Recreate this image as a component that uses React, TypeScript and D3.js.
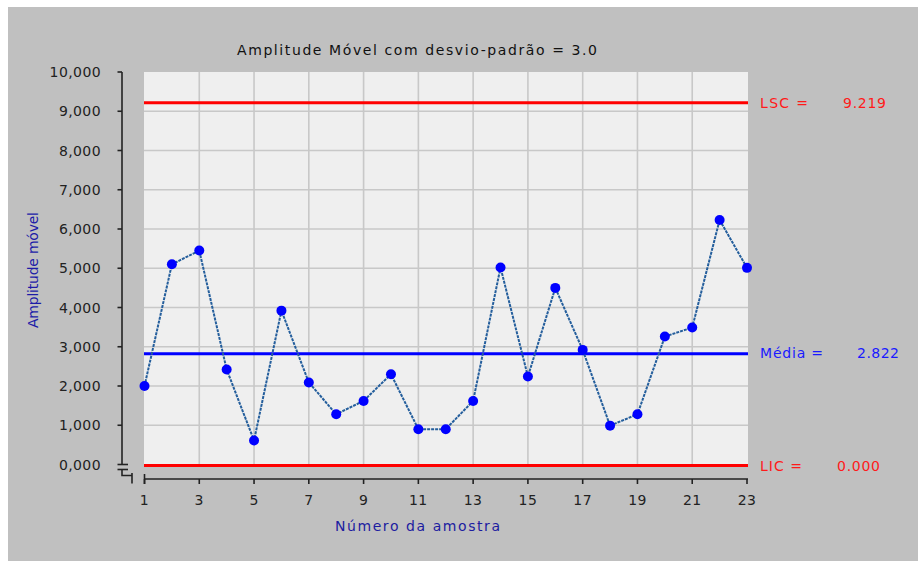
import React from "react";
import * as d3 from "d3";

const samples: number[] = [1,2,3,4,5,6,7,8,9,10,11,12,13,14,15,16,17,18,19,20,21,22,23];
const values: number[] = [2.0,5.1,5.45,2.42,0.61,3.92,2.09,1.28,1.62,2.3,0.9,0.9,1.62,5.02,2.24,4.5,2.92,0.99,1.28,3.26,3.49,6.23,5.01];
const yTicks: number[] = [0,1,2,3,4,5,6,7,8,9,10];
const yTickLabels: string[] = ["0,000","1,000","2,000","3,000","4,000","5,000","6,000","7,000","8,000","9,000","10,000"];
const xTicks: number[] = [1,3,5,7,9,11,13,15,17,19,21,23];
const LSC = 9.219;
const MEDIA = 2.822;
const LIC = 0.0;
const title = "Amplitude Móvel com desvio-padrão = 3.0";
const xTitle = "Número da amostra";
const yTitle = "Amplitude móvel";

const W = 918, H = 561;
const FONT = "'DejaVu Sans', sans-serif";

export default function App() {
  const x = d3.scaleLinear().domain([1, 23]).range([144.5, 747]);
  const y = d3.scaleLinear().domain([0, 10]).range([464.5, 72]);
  const line = d3.line<number>().x((_, i) => x(samples[i])).y((d) => y(d));
  const left = 144, right = 748, top = 72, bottom = 466.5;
  const axisY = 479;
  return (
    <svg width={W} height={H} style={{ position: "absolute", left: 0, top: 0 }} fontFamily={FONT}>
      <rect x={0} y={0} width={W} height={H} fill="#ffffff" />
      <rect x={8} y={7} width={W - 8} height={H - 7} fill="#c0c0c0" />
      {/* plot area */}
      <rect x={left} y={top} width={right - left} height={bottom - top} fill="#efefef" />
      {/* grid */}
      {yTicks.filter((t) => t > 0 && t < 10).map((t) => (
        <line key={"gy" + t} x1={left} x2={right} y1={y(t)} y2={y(t)} stroke="#c8c8c8" strokeWidth={1.6} />
      ))}
      {xTicks.filter((t) => t > 1 && t < 23).map((t) => (
        <line key={"gx" + t} x1={x(t)} x2={x(t)} y1={top} y2={bottom} stroke="#c8c8c8" strokeWidth={1.6} />
      ))}
      {/* control lines */}
      <line x1={left} x2={right} y1={y(LSC)} y2={y(LSC)} stroke="#ff0000" strokeWidth={3} />
      <line x1={left} x2={right} y1={y(MEDIA)} y2={y(MEDIA)} stroke="#0000ff" strokeWidth={3} />
      <line x1={left} x2={right} y1={y(LIC) + 1} y2={y(LIC) + 1} stroke="#ff0000" strokeWidth={3} />
      {/* data */}
      <path d={line(values) || ""} fill="none" stroke="#245e9c" strokeWidth={2} strokeDasharray="3,1" />
      {values.map((v, i) => (
        <circle key={"p" + i} cx={x(samples[i])} cy={y(v)} r={5} fill="#0000ff" />
      ))}
      {/* right labels */}
      <text x={760} y={108} fill="#ff1a1a" fontSize={14} textLength={48} lengthAdjust="spacing">LSC =</text>
      <text x={843} y={108} fill="#ff1a1a" fontSize={14} textLength={43} lengthAdjust="spacing">{LSC.toFixed(3)}</text>
      <text x={760} y={358} fill="#1a1aff" fontSize={14} textLength={63} lengthAdjust="spacing">Média =</text>
      <text x={857} y={358} fill="#1a1aff" fontSize={14} textLength={42} lengthAdjust="spacing">{MEDIA.toFixed(3)}</text>
      <text x={760} y={471} fill="#ff1a1a" fontSize={14} textLength={42} lengthAdjust="spacing">LIC =</text>
      <text x={837} y={471} fill="#ff1a1a" fontSize={14} textLength={43} lengthAdjust="spacing">{LIC.toFixed(3)}</text>
      {/* y axis */}
      <line x1={122} x2={122} y1={top} y2={y(0)} stroke="#222" strokeWidth={1.6} />
      {yTicks.map((t, i) => (
        <g key={"yt" + t}>
          <line x1={117.5} x2={t === 0 ? 128 : 122} y1={y(t)} y2={y(t)} stroke="#222" strokeWidth={1.6} />
          <text x={101} y={y(t) + 5} textAnchor="end" fontSize={14} fill="#222" letterSpacing={0.4}>{yTickLabels[i]}</text>
        </g>
      ))}
      {/* axis break */}
      <line x1={117.5} x2={128} y1={469.5} y2={469.5} stroke="#222" strokeWidth={1.6} />
      <path d="M122,469.5 V475.5 H132 M132,473 V483.5" fill="none" stroke="#222" strokeWidth={1.6} />
      {/* x axis */}
      <line x1={x(1)} x2={x(23) + 1} y1={axisY} y2={axisY} stroke="#222" strokeWidth={1.6} />
      <line x1={x(1)} x2={x(1)} y1={474} y2={484} stroke="#222" strokeWidth={1.6} />
      {xTicks.map((t) => (
        <g key={"xt" + t}>
          <line x1={x(t)} x2={x(t)} y1={axisY} y2={axisY + 5} stroke="#222" strokeWidth={1.6} />
          <text x={x(t)} y={505} textAnchor="middle" fontSize={14} fill="#222" letterSpacing={0.4}>{t}</text>
        </g>
      ))}
      {/* titles */}
      <text x={417} y={55} textAnchor="middle" fontSize={14} fill="#111" textLength={360} lengthAdjust="spacing">{title}</text>
      <text x={417.5} y={531} textAnchor="middle" fontSize={14} fill="#1c1ca0" textLength={165} lengthAdjust="spacing">{xTitle}</text>
      <text transform="translate(38,270) rotate(-90)" textAnchor="middle" fontSize={14} fill="#1c1ca8" textLength={116} lengthAdjust="spacing">{yTitle}</text>
    </svg>
  );
}
